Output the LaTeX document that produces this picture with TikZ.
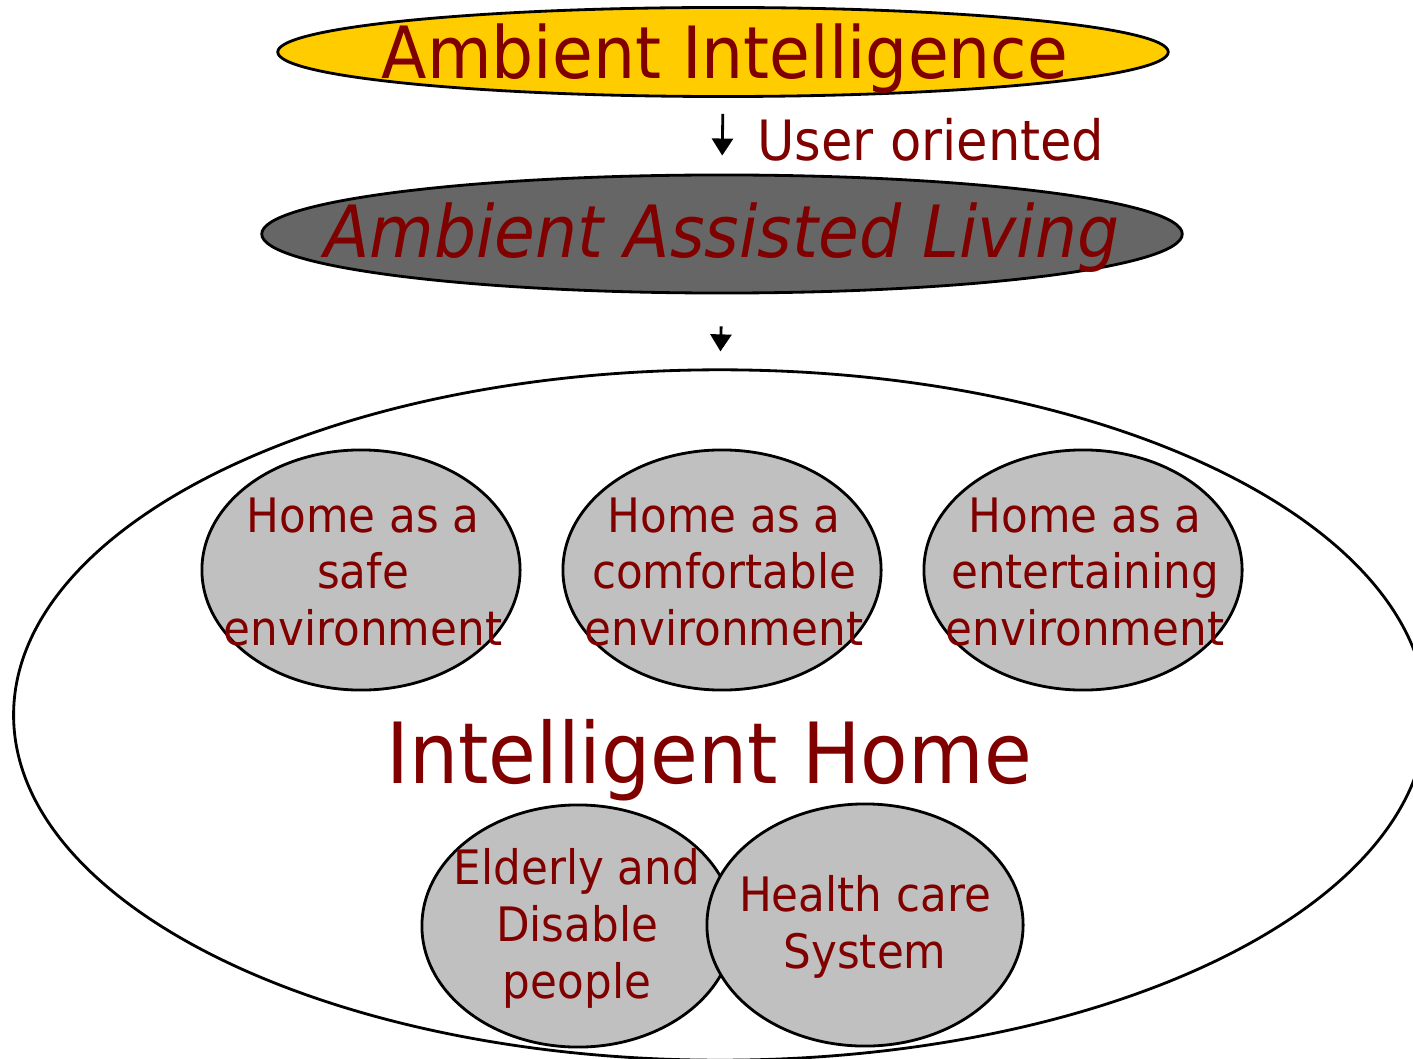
\documentclass[tikz,border=0pt]{standalone}
\usepackage{fontspec}
\setmainfont{DejaVu Sans}[FakeStretch=0.92]
\usetikzlibrary{shapes.geometric,arrows.meta}
\definecolor{txtred}{HTML}{800000}
\definecolor{aiyellow}{HTML}{FFCC00}
\definecolor{aalgray}{HTML}{666666}
\definecolor{circgray}{HTML}{C0C0C0}
\begin{document}
\begin{tikzpicture}[x=0.01cm,y=-0.01cm,
  oval/.style={ellipse, draw=black, line width=0.8pt, inner sep=0pt},
  sub/.style={oval, fill=circgray, minimum width=3.18cm, minimum height=2.40cm},
  lbl/.style={text=txtred, align=center},
  small/.style={lbl, font=\fontsize{13.5}{16.2}\selectfont},
  arr/.style={line width=0.8pt, -{Triangle[width=0.21cm,length=0.17cm]}}]
\clip (0,0) rectangle (1413,1058);
\fill[white] (0,0) rectangle (1413,1058);
% big ellipse
\node[oval, minimum width=14.12cm, minimum height=6.90cm] (home) at (720,715) {};
\node[lbl, font=\fontsize{24}{27}\selectfont] (homet) at (709,760) {Intelligent Home};
% top ellipses
\node[oval, fill=aiyellow, minimum width=8.90cm, minimum height=0.89cm] (ai) at (723,52) {};
\node[lbl, font=\fontsize{20.5}{23}\selectfont] (ait) at (725,59) {Ambient Intelligence};
\node[oval, fill=aalgray, minimum width=9.20cm, minimum height=1.18cm] (aal) at (722,234) {};
\node[lbl, font=\fontsize{20.5}{23}\selectfont\itshape] (aalt) at (722,238) {Ambient Assisted Living};
\draw[arr, shorten <=0.16cm, shorten >=0.18cm] (ai.south) -- (aal.north);
\node[lbl, anchor=west, font=\fontsize{15.8}{18}\selectfont] (uo) at (745,140) {User oriented};
\draw[arr, shorten <=0.32cm, shorten >=0.17cm] (aal.south) -- (home.north);
% sub circles
\node[sub] (c1) at (361,570) {};
\node[sub] (c2) at (722,570) {};
\node[sub] (c3) at (1083,570) {};
\node[small] (t1) at (363,572) {Home as a\\safe\\environment};
\node[small] (t2) at (724,572) {Home as a\\comfortable\\environment};
\node[small] (t3) at (1085,572) {Home as a\\entertaining\\environment};
\node[sub, minimum width=3.12cm, minimum height=2.42cm] (c4) at (578,926) {};
\node[sub, minimum width=3.16cm, minimum height=2.42cm] (c5) at (865,925) {};
\node[small] (t4) at (577,928) {Elderly and\\Disable\\people};
\node[small] (t5) at (865,927) {Health care\\System};
\end{tikzpicture}
\end{document}
